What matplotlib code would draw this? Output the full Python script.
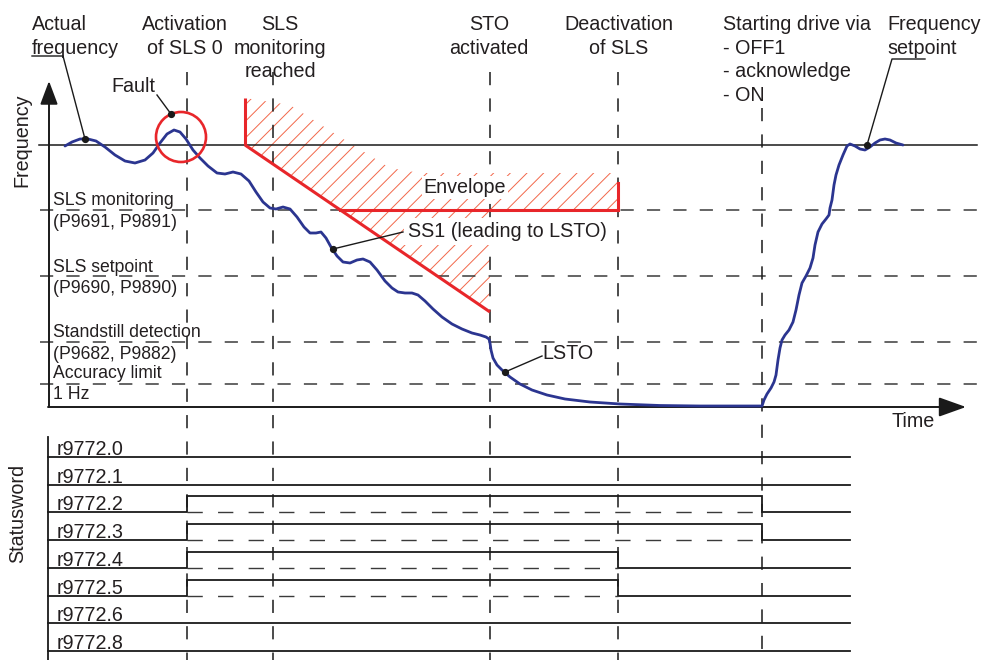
import matplotlib
matplotlib.use('Agg')
import matplotlib.pyplot as plt
from matplotlib.patches import Polygon, Circle

plt.rcParams['font.family'] = ['Liberation Sans', 'DejaVu Sans']
plt.rcParams['lines.scale_dashes'] = False
plt.rcParams['hatch.linewidth'] = 0.7
plt.rcParams['hatch.color'] = '#f2674a'

# ---------------- data (diagram coordinates: time to the right, frequency downward) ----
event_t = [187, 273, 490, 618, 762]
event_top = [72, 72, 72, 72, 108]
event_texts = [["Activation", "of SLS 0"], ["SLS", "monitoring", "reached"],
               ["STO", "activated"], ["Deactivation", "of SLS"]]
event_text_x = [185, 280, 489, 619]

f_setpoint = 145
level_f = [210, 276, 342, 384]
level_texts = [["SLS monitoring", "(P9691, P9891)"], ["SLS setpoint", "(P9690, P9890)"],
               ["Standstill detection", "(P9682, P9882)"], ["Accuracy limit", "1 Hz"]]
level_text_base = [[205, 227], [272, 293], [337, 359], [378, 399]]
f_zero = 407

curve_t = [65, 72, 80, 88, 96, 105, 115, 125, 135, 145, 153, 160, 167, 174, 180, 186,
           193, 200, 208, 217, 225, 233, 241, 249, 256, 263, 270, 276, 283, 290, 297,
           304, 310, 316, 321, 326, 331, 337, 343, 350, 357, 363, 370, 377, 385, 392,
           398, 405, 412, 418, 425, 433, 442, 452, 462, 472, 480, 486, 489, 490, 491,
           493, 497, 502, 510, 520, 532, 547, 565, 590, 620, 660, 700, 762,
           764, 767, 771, 774, 776, 778, 780, 782, 785, 789, 793, 796, 799, 802, 806,
           810, 813, 815, 818, 822, 826, 829, 830, 832, 834, 836, 839, 843, 847, 850,
           855, 860, 865, 870, 875, 880, 885, 890, 896, 903]
curve_f = [146, 142, 139, 139, 141, 147, 155, 161, 163, 160, 153, 143, 134, 130, 132, 139,
           150, 158, 166, 173, 174, 172, 174, 181, 192, 202, 208, 209, 207, 209, 217,
           227, 233, 233, 232, 238, 247, 256, 262, 263, 260, 259, 262, 270, 281, 288,
           292, 293, 293, 295, 301, 309, 317, 324, 329, 333, 335, 337, 339, 343, 350,
           358, 365, 370, 377, 384, 390, 395, 399, 402, 404, 405.5, 406, 406,
           400, 394, 388, 382, 375, 360, 348, 340, 335, 330, 322, 310, 295, 283, 276,
           268, 258, 245, 232, 224, 219, 215, 208, 200, 185, 175, 165, 155, 146, 144,
           146, 149, 150, 147, 143, 140, 139, 140, 143, 145]

ss1_t = [245, 490]
ss1_f = [145, 312]
env_line_t = [340, 618, 618]
env_line_f = [210, 210, 183]
env_start_t = [245, 245]
env_start_f = [98, 145]
env_hatch_t = [245, 290, 340, 390, 420, 618, 618, 490, 490, 245]
env_hatch_f = [98, 105, 137, 168, 173, 173, 210, 210, 312, 145]

status_labels = ['r9772.0', 'r9772.1', 'r9772.2', 'r9772.3', 'r9772.4', 'r9772.5',
                 'r9772.6', 'r9772.8']
status_on = [None, None, 187, 187, 187, 187, None, None]
status_off = [None, None, 762, 762, 618, 618, None, None]
status_y0 = 457
status_dy = 27.7
status_high = 16
status_t0, status_t1 = 48, 850

# ---------------- figure ----------------
W, H = 983, 660
fig = plt.figure(figsize=(W / 100, H / 100), dpi=100)
ax = fig.add_axes([0, 0, 1, 1])
ax.set_xlim(0, W)
ax.set_ylim(H, 0)
ax.axis('off')

TXT = '#231f20'
BLK = '#1a1a1a'
GRY = '#3a3a3a'
RED = '#e8262a'
BLUE = '#2b3590'
FS = 14.2
FS2 = 12.7
DASH = (0, (9.5, 9.5))

# envelope hatch
ax.add_patch(Polygon(list(zip(env_hatch_t, env_hatch_f)), closed=True, facecolor='none',
                     edgecolor='#f2674a', linewidth=0, hatch='//', zorder=1))

# horizontal reference lines
ax.plot([39, 977], [f_setpoint, f_setpoint], color=BLK, lw=1.1, zorder=2)
for f in level_f:
    ax.plot([40, 977], [f, f], color=GRY, lw=1.1, linestyle=DASH, zorder=2)

# vertical event lines
for t, top in zip(event_t, event_top):
    ax.plot([t, t], [top, 662], color=BLK, lw=1.1, linestyle=DASH, zorder=2)

# axes with arrows
ax.annotate('', xy=(49, 81), xytext=(49, f_zero),
            arrowprops=dict(arrowstyle='-|>,head_length=1.2,head_width=0.45',
                            color=BLK, lw=1.4, shrinkA=0, shrinkB=0, mutation_scale=12))
ax.annotate('', xy=(966, f_zero), xytext=(48, f_zero),
            arrowprops=dict(arrowstyle='-|>,head_length=1.4,head_width=0.5',
                            color=BLK, lw=1.4, shrinkA=0, shrinkB=0, mutation_scale=12))

# red envelope lines
ax.plot(ss1_t, ss1_f, color=RED, lw=2.2, zorder=4, solid_capstyle='butt')
ax.plot(env_line_t, env_line_f, color=RED, lw=2.2, zorder=4, solid_joinstyle='miter')
ax.plot(env_start_t, env_start_f, color=RED, lw=2.2, zorder=4, solid_capstyle='butt')

# actual frequency curve
ax.plot(curve_t, curve_f, color=BLUE, lw=2.0, zorder=5, solid_capstyle='round',
        solid_joinstyle='round')

# fault circle
ax.add_patch(Circle((181, 137), 25, fill=False, edgecolor=RED, lw=1.9, zorder=6))

# text helpers
def lines_at(x, bases, texts, ha='center', fs=FS):
    for b, s in zip(bases, texts):
        ax.text(x, b, s, ha=ha, va='baseline', fontsize=fs, color=TXT, zorder=7)

for x, lines in zip(event_text_x, event_texts):
    lines_at(x, [30, 53.5, 77][:len(lines)], lines)
lines_at(723, [30, 53.5, 77, 101], ["Starting drive via", "- OFF1", "- acknowledge", "- ON"],
         ha='left')
lines_at(32, [30, 53.5], ["Actual", "frequency"], ha='left')
lines_at(887, [30, 53.5], ["Frequency", "setpoint"], ha='left')

for texts, bases in zip(level_texts, level_text_base):
    lines_at(53, bases, texts, ha='left', fs=FS2)

ax.text(22, 140, 'Frequency', rotation=90, ha='center', va='center', fontsize=FS, color=TXT)
ax.text(18, 513, 'Statusword', rotation=90, ha='center', va='center', fontsize=FS, color=TXT)
ax.text(892, 427, 'Time', ha='left', va='baseline', fontsize=FS, color=TXT)
ax.text(111, 92, 'Fault', ha='left', va='baseline', fontsize=FS, color=TXT)
ax.text(465, 193, 'Envelope', ha='center', va='baseline', fontsize=FS, color=TXT, zorder=7,
        bbox=dict(facecolor='white', edgecolor='none', pad=1.5))
ax.text(408, 237, 'SS1 (leading to LSTO)', ha='left', va='baseline', fontsize=FS, color=TXT,
        zorder=7, bbox=dict(facecolor='white', edgecolor='none', pad=2.5))
ax.text(542, 359, 'LSTO', ha='left', va='baseline', fontsize=FS, color=TXT, zorder=7)

# leaders: polyline from label to a dot on the marked element
leaders = [([32, 63, 85], [56, 56, 139]),
           ([925, 892, 867], [59, 59, 145]),
           ([157, 171], [95, 114]),
           ([403, 333], [232, 249]),
           ([542, 505], [356, 372])]
for lt, lf in leaders:
    ax.plot(lt, lf, color=BLK, lw=1.0, zorder=8)
    ax.plot(lt[-1:], lf[-1:], 'o', color=BLK, ms=4.2, zorder=9)

# statusword section
ax.plot([48, 48], [437, 662], color=BLK, lw=1.3)
for i, (lab, on, off) in enumerate(zip(status_labels, status_on, status_off)):
    y = status_y0 + i * status_dy
    ax.text(57, y - 2, lab, ha='left', va='baseline', fontsize=FS, color=TXT)
    if on is None:
        ax.plot([status_t0, status_t1], [y, y], color=BLK, lw=1.3)
    else:
        yh = y - status_high
        ax.plot([status_t0, on, on, off, off, status_t1], [y, y, yh, yh, y, y],
                color=BLK, lw=1.3, solid_joinstyle='miter')
        ax.plot([on, off], [y, y], color=GRY, lw=1.0, linestyle=(0, (11, 11)))

fig.savefig('out.png', dpi=100)
